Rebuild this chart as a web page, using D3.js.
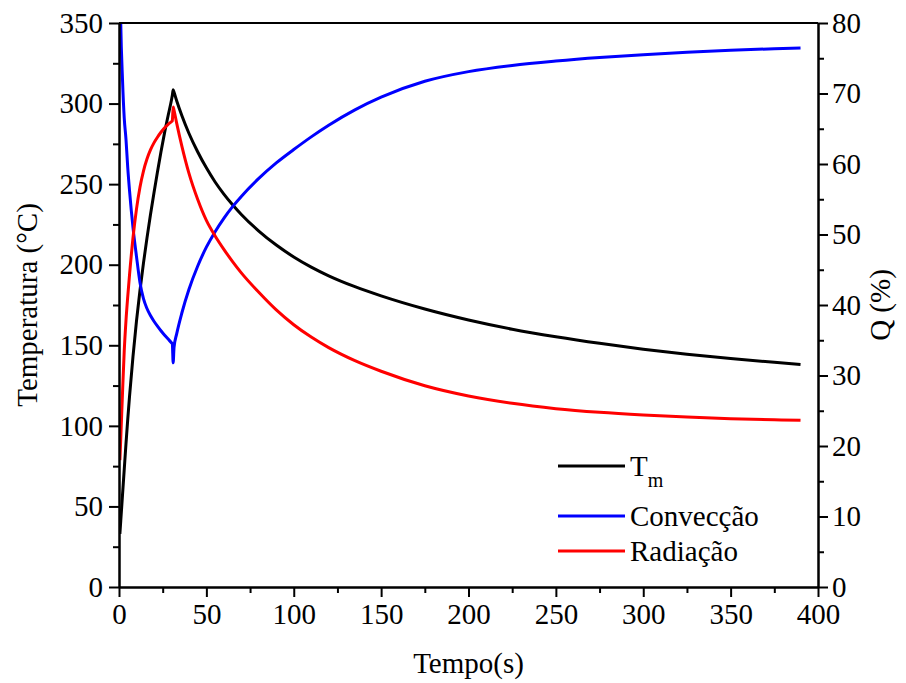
<!DOCTYPE html>
<html>
<head>
<meta charset="utf-8">
<script src="https://cdn.jsdelivr.net/npm/d3@7/dist/d3.min.js"></script>
<style>
  html, body { margin: 0; padding: 0; background: #fff; }
  svg { display: block; }
  text { font-family: "Liberation Serif", "Times New Roman", serif; fill: #000; }
</style>
</head>
<body>
<svg id="chart" width="906" height="683"></svg>
<script>
// Time samples (s)
const tempo = [0.5, 1, 2, 3, 4, 5, 6, 8, 10, 12, 14, 16, 18, 20, 22, 24, 26, 28, 30, 30.5, 31, 31.5,
  33, 36, 40, 45, 50, 55, 60, 65, 70, 80, 90, 100, 110, 120, 135, 150, 175, 200, 225, 250,
  275, 300, 325, 350, 375, 390];

// Mean temperature T_m (°C), left axis
const tm = [33, 41, 57, 73, 89, 104, 118, 143, 165, 184, 201, 216.5, 231, 244.5, 257.5, 270,
  281.5, 292, 302, 305, 308.5, 307, 301.7, 292.4, 281.6, 270.1, 260.1, 251.35, 243.85, 237.2,
  231.2, 220.9, 212.2, 204.8, 198.5, 193.1, 186.35, 180.65, 172.5, 165.7, 160.0, 155.3, 151.2,
  147.6, 144.5, 141.8, 139.4, 138.1];

// Convective share Q (%), right axis
const conveccao = [88, 80, 72, 66.5, 63.5, 59.5, 56.3, 51.0, 46.9, 43.2, 40.9, 39.5, 38.5, 37.7,
  37.0, 36.35, 35.75, 35.2, 34.65, 34.5, 31.8, 34.0, 35.9, 38.9, 42.2, 45.5, 48.2, 50.4, 52.3,
  53.95, 55.4, 57.95, 60.15, 62.05, 63.85, 65.5, 67.68, 69.48, 71.73, 73.1, 73.98, 74.6, 75.1,
  75.5, 75.85, 76.12, 76.35, 76.45];

// Radiative share Q (%), right axis
const radiacao = [18, 21, 27.5, 33.5, 37.8, 41.2, 44.2, 49.5, 53.6, 56.7, 59.0, 60.7, 62.0, 63.0,
  63.8, 64.5, 65.1, 65.6, 66.0, 66.1, 68.1, 67.6, 65.8, 62.5, 58.7, 55.0, 52.0, 49.8, 47.9, 46.15,
  44.55, 41.8, 39.3, 37.2, 35.45, 33.95, 32.1, 30.6, 28.55, 27.1, 26.05, 25.3, 24.78, 24.4, 24.1,
  23.88, 23.72, 23.65];

const xTicks = [0, 50, 100, 150, 200, 250, 300, 350, 400];
const yLeftTicks = [0, 50, 100, 150, 200, 250, 300, 350];
const yRightTicks = [0, 10, 20, 30, 40, 50, 60, 70, 80];

const series = [
  { name: "Tm", values: tm, axis: "left", color: "#000000" },
  { name: "Convecção", values: conveccao, axis: "right", color: "#0000ff" },
  { name: "Radiação", values: radiacao, axis: "right", color: "#ff0000" }
];

const svg = d3.select("#chart");
const plot = { left: 119, right: 818, top: 23, bottom: 587 };
const FS = 29;

const x = d3.scaleLinear().domain([0, 400]).range([plot.left, plot.right]);
const yL = d3.scaleLinear().domain([0, 350]).range([plot.bottom, plot.top]);
const yR = d3.scaleLinear().domain([0, 80]).range([plot.bottom, plot.top]);

svg.append("defs").append("clipPath").attr("id", "plotClip")
  .append("rect")
  .attr("x", plot.left).attr("y", plot.top)
  .attr("width", plot.right - plot.left).attr("height", plot.bottom - plot.top);

// Data lines
const lines = svg.append("g").attr("clip-path", "url(#plotClip)");
series.forEach(s => {
  const ys = s.axis === "left" ? yL : yR;
  const line = d3.line()
    .x((d, i) => x(tempo[i]))
    .y(d => ys(d))
    .curve(d3.curveMonotoneX);
  lines.append("path")
    .datum(s.values)
    .attr("fill", "none")
    .attr("stroke", s.color)
    .attr("stroke-width", 3)
    .attr("stroke-linejoin", "round")
    .attr("d", line);
});

function styleAxis(g) {
  g.selectAll("path.domain").attr("stroke", "#000").attr("stroke-width", 2);
  g.selectAll(".tick line").attr("stroke", "#000").attr("stroke-width", 2);
  g.selectAll(".tick text")
    .style("font-family", '"Liberation Serif", "Times New Roman", serif')
    .style("font-size", FS + "px")
    .attr("fill", "#000");
}

function mids(ticks) {
  const out = [];
  for (let i = 0; i < ticks.length - 1; i++) out.push((ticks[i] + ticks[i + 1]) / 2);
  return out;
}

// Bottom axis
const gx = svg.append("g").attr("transform", `translate(0,${plot.bottom})`)
  .call(d3.axisBottom(x).tickValues(xTicks).tickFormat(d3.format("d"))
    .tickSize(10).tickSizeOuter(0).tickPadding(6));
styleAxis(gx);
const gxm = svg.append("g").attr("transform", `translate(0,${plot.bottom})`)
  .call(d3.axisBottom(x).tickValues(mids(xTicks)).tickFormat("").tickSize(6).tickSizeOuter(0));
styleAxis(gxm);

// Left axis
const gl = svg.append("g").attr("transform", `translate(${plot.left},0)`)
  .call(d3.axisLeft(yL).tickValues(yLeftTicks).tickFormat(d3.format("d"))
    .tickSize(10).tickSizeOuter(0).tickPadding(6));
styleAxis(gl);
const glm = svg.append("g").attr("transform", `translate(${plot.left},0)`)
  .call(d3.axisLeft(yL).tickValues(mids(yLeftTicks)).tickFormat("").tickSize(6).tickSizeOuter(0));
styleAxis(glm);

// Right axis
const gr = svg.append("g").attr("transform", `translate(${plot.right},0)`)
  .call(d3.axisRight(yR).tickValues(yRightTicks).tickFormat(d3.format("d"))
    .tickSize(10).tickSizeOuter(0).tickPadding(4));
styleAxis(gr);
const grm = svg.append("g").attr("transform", `translate(${plot.right},0)`)
  .call(d3.axisRight(yR).tickValues(mids(yRightTicks)).tickFormat("").tickSize(6).tickSizeOuter(0));
styleAxis(grm);

// Top frame line
svg.append("line")
  .attr("x1", plot.left).attr("x2", plot.right)
  .attr("y1", plot.top).attr("y2", plot.top)
  .attr("stroke", "#000").attr("stroke-width", 2);

// Axis titles
svg.append("text")
  .attr("x", (plot.left + plot.right) / 2).attr("y", 673)
  .attr("text-anchor", "middle").style("font-size", FS + "px")
  .text("Tempo(s)");
svg.append("text")
  .attr("transform", `translate(37,${(plot.top + plot.bottom) / 2}) rotate(-90)`)
  .attr("text-anchor", "middle").style("font-size", FS + "px")
  .text("Temperatura (°C)");
svg.append("text")
  .attr("transform", `translate(890,${(plot.top + plot.bottom) / 2}) rotate(-90)`)
  .attr("text-anchor", "middle").style("font-size", FS + "px")
  .text("Q (%)");

// Legend
const legendRows = [
  { s: series[0], y: 466 },
  { s: series[1], y: 516 },
  { s: series[2], y: 551 }
];
const legend = svg.append("g");
legendRows.forEach(r => {
  legend.append("line")
    .attr("x1", 558).attr("x2", 625)
    .attr("y1", r.y).attr("y2", r.y)
    .attr("stroke", r.s.color).attr("stroke-width", 3);
  const t = legend.append("text")
    .attr("x", 630).attr("y", r.y + 10)
    .style("font-size", FS + "px");
  if (r.s.name === "Tm") {
    t.append("tspan").text("T");
    t.append("tspan").attr("dy", 11).style("font-size", "20px").text("m");
  } else {
    t.text(r.s.name);
  }
});
</script>
</body>
</html>
